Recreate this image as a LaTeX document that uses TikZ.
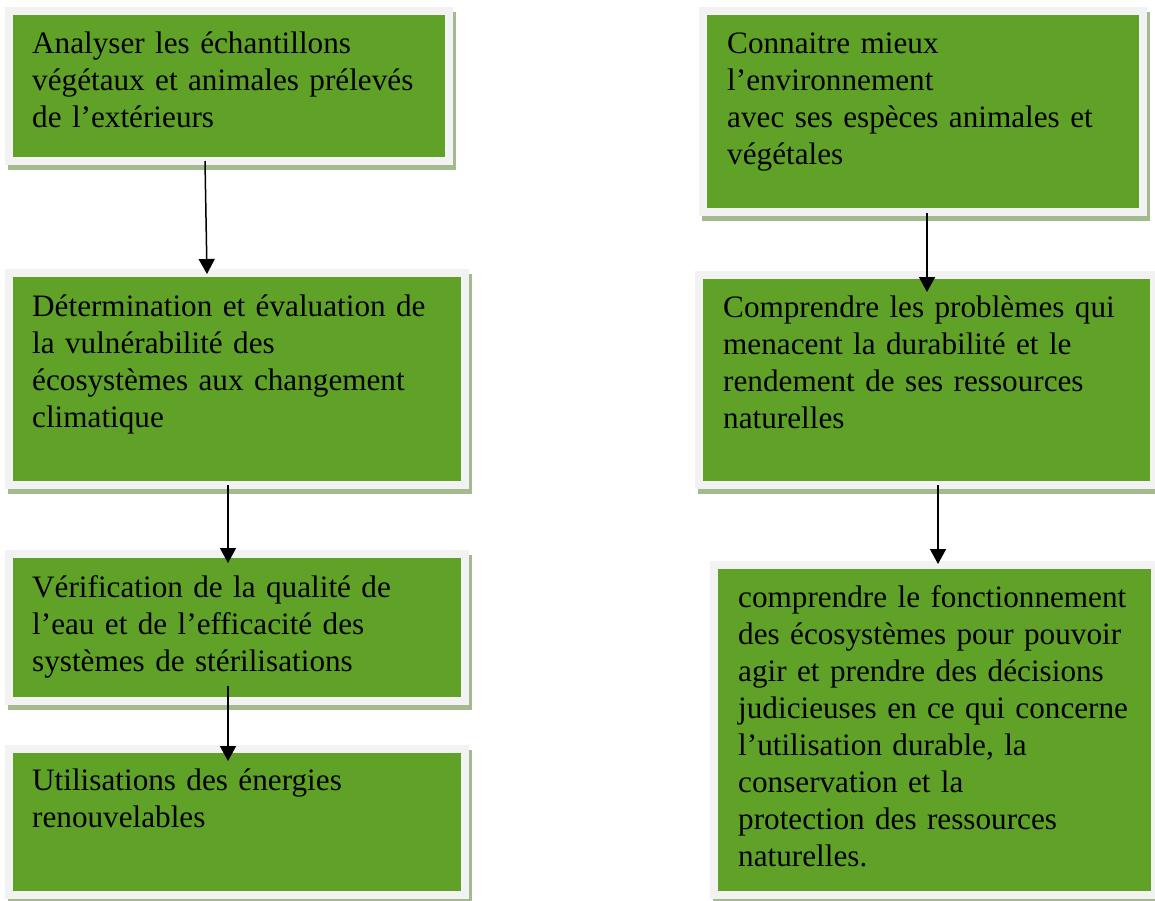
\documentclass[tikz,border=0pt]{standalone}
\usepackage{fontspec}
\setmainfont{Liberation Serif}
\usetikzlibrary{arrows.meta,calc,backgrounds}
\definecolor{boxgreen}{RGB}{95,162,39}
\definecolor{framegrey}{RGB}{242,242,242}
\definecolor{shadowgreen}{RGB}{163,186,143}
\begin{document}
\begin{tikzpicture}[x=1pt,y=-1pt,
  gbox/.style={fill=boxgreen, draw=none, inner sep=0pt, outer sep=0pt, anchor=north west},
  txt/.style={anchor=base west, inner sep=0pt, text width=430pt, align=left,
              font=\fontsize{31.2pt}{37pt}\selectfont},
  arr/.style={line width=1.5pt, -{Triangle[width=16pt,length=15pt]}}]
\useasboundingbox (0,0) rectangle (1155,900);

% green boxes
\node[gbox, minimum width=432pt, minimum height=142pt] (L1) at (13,15) {};
\node[gbox, minimum width=448pt, minimum height=204pt] (L2) at (13,277) {};
\node[gbox, minimum width=448pt, minimum height=139pt] (L3) at (13,558) {};
\node[gbox, minimum width=448pt, minimum height=138pt] (L4) at (13,753) {};
\node[gbox, minimum width=432pt, minimum height=193pt] (R1) at (707,15) {};
\node[gbox, minimum width=447pt, minimum height=202pt] (R2) at (703,279) {};
\node[gbox, minimum width=433pt, minimum height=322pt] (R3) at (718,569) {};

% page, frames and shadows
\begin{scope}[on background layer]
\fill[white] (0,0) rectangle (1155,900);
\foreach \n in {L1,L2,L3,L4,R1,R2,R3}{
  \fill[shadowgreen] ($(\n.north west)+(-5,-3)$) rectangle ($(\n.south east)+(11,13)$);
  \fill[framegrey] ($(\n.north west)+(-8,-8)$) rectangle ($(\n.south east)+(8,8)$);
}
\end{scope}

% texts
\node[txt] (L1t) at ($(L1.north west)+(19,38)$) {Analyser les échantillons\\végétaux et animales prélevés\\de l’extérieurs};
\node[txt] (L2t) at ($(L2.north west)+(19,39)$) {Détermination et évaluation de\\la vulnérabilité des\\écosystèmes aux changement\\climatique};
\node[txt] (L3t) at ($(L3.north west)+(19,39)$) {Vérification de la qualité de\\l’eau et de l’efficacité des\\systèmes de stérilisations};
\node[txt] (L4t) at ($(L4.north west)+(19,37)$) {Utilisations des énergies\\renouvelables};
\node[txt] (R1t) at ($(R1.north west)+(20,38)$) {Connaitre mieux\\l’environnement\\avec ses espèces animales et\\végétales};
\node[txt] (R2t) at ($(R2.north west)+(20,38)$) {Comprendre les problèmes qui\\menacent la durabilité et le\\rendement de ses ressources\\naturelles};
\node[txt] (R3t) at ($(R3.north west)+(20,38)$) {comprendre le fonctionnement\\des écosystèmes pour pouvoir\\agir et prendre des décisions\\judicieuses en ce qui concerne\\l’utilisation durable, la\\conservation et la\\protection des ressources\\naturelles.};

% arrows
\draw[arr] ($(L1.south)+(-24,4)$) -- ($(L2.north)+(-30,-3)$);
\draw[arr] ($(L2.south)+(-9,4)$) -- ($(L3.north)+(-9,5)$);
\draw[arr] ($(L3.south)+(-9,-11)$) -- ($(L4.north)+(-9,8)$);
\draw[arr] ($(R1.south)+(4,5)$) -- ($(R2.north)+(0.5,13)$);
\draw[arr] ($(R2.south)+(11.5,4)$) -- ($(R3.north)+(3.5,-5)$);
\end{tikzpicture}
\end{document}
